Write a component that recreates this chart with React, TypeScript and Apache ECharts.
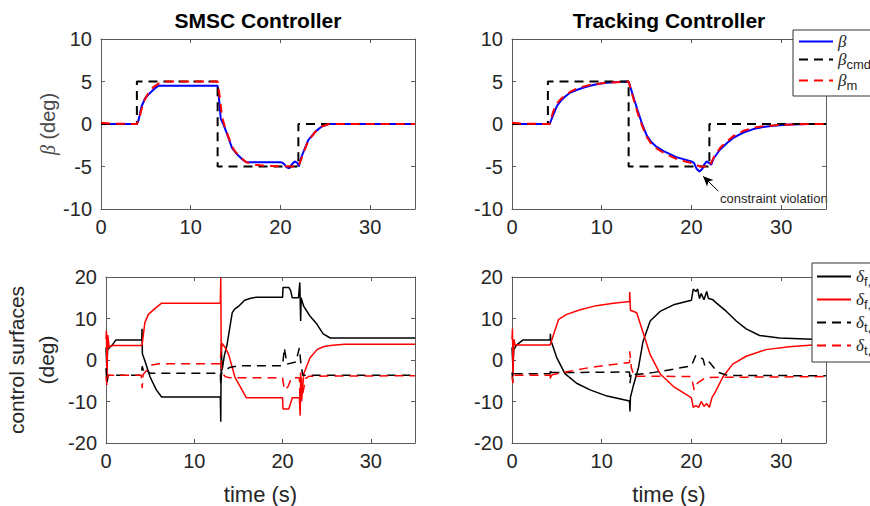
import React, { useEffect, useRef } from "react";
import * as echarts from "echarts";

// ---------- data (time s, value) ----------
const betaCmd: number[][] = [[0, 0], [4, 0], [4, 5], [13, 5], [13, -5], [22, -5], [22, 0], [35, 0]];

const smscBeta: number[][] = [[0, 0], [4.0, 0], [4.2, 0.5], [4.5, 2.0], [4.9, 3.0], [5.4, 3.6], [5.9, 4.1], [6.4, 4.5], [13.0, 4.5], [13.15, 3.0], [13.35, 0.6], [13.7, -0.2], [14.2, -1.6], [14.6, -2.8], [15.1, -3.5], [15.8, -4.2], [16.2, -4.5], [20.1, -4.5], [20.4, -4.7], [20.7, -5.1], [21.0, -5.2], [21.3, -4.7], [21.6, -4.4], [21.9, -4.6], [22.05, -5.0], [22.3, -4.0], [22.6, -3.2], [23.1, -1.9], [23.9, -0.9], [24.6, -0.3], [25.4, 0], [35, 0]];
const smscBetaM: number[][] = [[0, 0.15], [1, 0.05], [4.0, 0], [4.3, 0.8], [4.7, 2.5], [5.2, 3.5], [5.8, 4.3], [6.5, 4.8], [7.2, 5.0], [13.0, 5.0], [13.2, 3.5], [13.5, 0.8], [13.8, -0.3], [14.3, -1.8], [14.8, -3.0], [15.4, -3.8], [16.2, -4.5], [17.2, -4.8], [18.5, -4.95], [22.0, -5.0], [22.3, -4.2], [22.6, -3.3], [23.1, -2.0], [23.9, -0.9], [24.6, -0.3], [25.4, 0], [35, 0]];

const trkBeta: number[][] = [[0, 0], [4.2, 0], [4.5, 0.8], [5.0, 2.1], [5.5, 2.8], [5.9, 3.2], [6.5, 3.7], [7.2, 4.0], [8.0, 4.3], [8.7, 4.5], [9.6, 4.7], [10.5, 4.85], [11.8, 4.95], [13.0, 5.0], [13.5, 3.3], [14.0, 1.6], [14.5, 0], [15.0, -1.3], [15.5, -2.1], [16.0, -2.6], [16.9, -3.2], [18.3, -3.9], [20.0, -4.4], [20.3, -4.6], [20.6, -5.3], [20.9, -5.6], [21.2, -5.3], [21.4, -4.8], [21.7, -4.4], [22.0, -4.6], [22.2, -4.8], [22.5, -4.0], [23.2, -3.0], [24.0, -2.2], [24.7, -1.6], [25.8, -1.0], [26.9, -0.6], [28.0, -0.35], [29.1, -0.2], [31, -0.05], [33, 0], [35, 0]];
const trkBetaM: number[][] = [[0, 0.15], [1, 0.05], [4.2, 0], [4.6, 1.5], [5.0, 2.4], [5.5, 3.0], [6.5, 3.8], [7.5, 4.3], [8.7, 4.6], [10.5, 4.85], [13.0, 5.0], [13.5, 3.1], [14.0, 1.3], [14.5, -0.2], [15.0, -1.5], [15.5, -2.3], [16.0, -2.8], [16.9, -3.4], [18.3, -4.1], [20.0, -4.6], [21.0, -5.0], [22.0, -5.0], [22.5, -3.9], [23.2, -2.8], [24.0, -2.0], [24.7, -1.4], [25.8, -0.8], [26.9, -0.45], [28.0, -0.25], [30, -0.1], [33, 0], [35, 0]];

const smscDfr: number[][] = [[0, 3], [0.08, -1.5], [0.18, 2.5], [0.4, 3.0], [0.7, 3.6], [1.1, 4.8], [4.05, 4.8], [4.08, 7.5], [4.12, 1.5], [4.4, -0.2], [5.0, -4.1], [5.7, -7.2], [6.3, -8.9], [12.95, -8.9], [13.0, -14.9], [13.05, 4], [13.15, -2.5], [13.4, 1.0], [13.7, 3.6], [14.3, 11.4], [14.6, 12.3], [15.0, 12.9], [15.7, 14.4], [16.3, 14.8], [17, 15.1], [20.0, 15.1], [20.05, 17.5], [20.7, 17.5], [20.9, 16.8], [21.1, 15.0], [21.8, 15.0], [21.95, 18.7], [22.05, 9.4], [22.1, 15], [22.4, 12.9], [23.1, 10.6], [23.9, 8.6], [24.6, 6.3], [25.4, 5.3], [26.5, 5.3], [35, 5.3]];
const smscDfl: number[][] = [[0, 5], [0.05, 7.1], [0.12, -5], [0.2, 6], [0.35, 3.2], [0.8, 3.5], [4.05, 3.5], [4.1, 3.8], [4.4, 9.0], [4.8, 11.0], [5.6, 12.5], [6.3, 13.7], [12.95, 13.7], [13.0, 19.8], [13.05, 2.0], [13.15, 4.0], [13.5, 3], [13.9, 1.3], [14.6, -4.1], [15.4, -7.2], [15.9, -9.1], [20.0, -9.1], [20.05, -11.8], [20.7, -11.8], [20.9, -10.5], [21.1, -9.1], [21.9, -9.1], [22.0, -13.4], [22.05, -3], [22.15, -10], [22.4, -3.3], [23.1, 0.5], [23.9, 2.5], [24.6, 3.2], [25.4, 3.5], [27, 3.8], [35, 3.8]];
const smscDtr: number[][] = [[0, -2], [0.1, -5.5], [0.25, -3.7], [4.0, -3.7], [4.1, -1.5], [4.3, -3.0], [4.6, -2.5], [5.0, -3.2], [12.95, -3.2], [13.0, -6], [13.1, -3], [13.5, -2.5], [14, -1.8], [15, -1.4], [20.0, -1.4], [20.2, 2.9], [20.5, -1.0], [21.5, -0.5], [21.9, 2.9], [22.1, -1.4], [22.3, -3.7], [35, -3.7]];
const smscDtl: number[][] = [[0, -4], [0.1, -6], [0.25, -3.7], [4.0, -3.7], [4.1, -6.8], [4.2, -3.5], [4.6, -2.5], [5.2, -1.2], [6, -0.9], [12.95, -0.9], [13.0, 2], [13.1, -3], [13.5, -4.0], [14, -4.3], [20.0, -4.3], [20.2, -7.2], [20.6, -6.5], [21.0, -4.3], [21.9, -4.3], [22.0, -12], [22.1, -3.5], [22.3, -8], [22.6, -4.5], [23, -3.9], [35, -3.8]];

const trkDfr: number[][] = [[0, 3], [0.1, -1.5], [0.2, 2.5], [0.5, 3.6], [1.2, 4.8], [4.25, 4.8], [4.28, 6.3], [4.32, 4.8], [5.0, 0.5], [5.9, -3.3], [7.2, -5.6], [8.7, -7.2], [10.6, -8.7], [13.1, -9.9], [13.15, -12.4], [13.2, -9], [13.5, -6.4], [14.1, -1.8], [14.6, 4.4], [15.4, 9.4], [16.5, 11.7], [18.0, 13.3], [20.0, 14.4], [20.2, 17.1], [20.5, 16.5], [20.7, 17.1], [20.9, 14.8], [21.1, 16.0], [21.4, 14.5], [21.7, 16.5], [21.9, 14.8], [22.4, 14.5], [22.8, 13.7], [23.9, 11.7], [25.0, 9.4], [26.1, 7.5], [27.6, 5.9], [29.8, 5.3], [33.5, 5.0], [35, 5.0]];
const trkDfl: number[][] = [[0, 5], [0.05, 7.5], [0.12, -4], [0.2, 5], [0.35, 3.6], [4.25, 3.6], [4.6, 5.9], [5.2, 9.8], [6.1, 11.0], [7.6, 12.1], [9.4, 13.1], [11.3, 13.7], [13.1, 14.1], [13.12, 16.4], [13.2, 12], [13.9, 11.4], [14.6, 6.7], [15.4, 1.3], [16.5, -3.3], [18.0, -6.4], [19.4, -8.3], [20.0, -9.1], [20.2, -11.4], [20.5, -11.0], [20.8, -11.4], [21.1, -10.0], [21.4, -11.2], [21.7, -10.5], [22.0, -11.4], [22.3, -9], [22.6, -8.0], [23.5, -4.1], [24.6, -1.0], [26.1, 0.9], [28.3, 2.5], [30.9, 3.2], [34.6, 3.8], [35, 3.8]];
const trkDtr: number[][] = [[0, -3], [0.1, -5], [0.25, -3.3], [4.25, -3.3], [4.3, -2], [4.4, -3.0], [7.4, -3.0], [13.1, -2.9], [13.15, -5.6], [13.3, -3], [13.8, -3.5], [15.5, -3.1], [18.0, -2.2], [20.0, -1.4], [20.5, 1.2], [21.3, 0.2], [21.5, -1.5], [22.0, -0.5], [22.9, -2.9], [24, -3.7], [35, -3.8]];
const trkDtl: number[][] = [[0, -4], [0.1, -5.6], [0.25, -3.7], [4.25, -3.7], [4.3, -5], [4.4, -3.6], [5.0, -3.3], [8.7, -1.8], [13.1, -0.6], [13.12, 2.1], [13.3, -1.8], [13.6, -3.9], [15, -3.9], [20.0, -4.0], [20.3, -7.2], [20.7, -5.5], [21.2, -4.8], [21.6, -4.2], [35, -4.0]];

const arrowTail = [23.0, -7.9];
const arrowHead = [21.3, -6.15];

const panelTitles = ["SMSC Controller", "Tracking Controller"];
const topLegendNames = ["beta", "beta_cmd", "beta_m"];
const bottomLegendNames = ["dfr", "dfl", "dtr", "dtl"];
const legendLabels: Record<string, string> = {
  beta: "{g|β}",
  beta_cmd: "{g|β}{s|cmd}",
  beta_m: "{g|β}{s|m}",
  dfr: "{g|δ}{s|f,r}",
  dfl: "{g|δ}{s|f,l}",
  dtr: "{g|δ}{s|t,r}",
  dtl: "{g|δ}{s|t,l}",
};

const FONT = "Liberation Sans, Arial, Helvetica, sans-serif";
const AX = "#5a5a5a";
const TXT = "#262626";

export default function App() {
  const ref = useRef<HTMLDivElement>(null);
  useEffect(() => {
    if (!ref.current) return;
    const chart = echarts.init(ref.current, undefined, { renderer: "svg" });

    const grids = [
      { left: 101, top: 39, width: 314, height: 170 },
      { left: 512, top: 39, width: 314, height: 170 },
      { left: 101, top: 277, width: 314, height: 170 },
      { left: 512, top: 277, width: 314, height: 170 },
    ];

    const xAxes: any[] = [];
    const yAxes: any[] = [];
    for (let pass = 0; pass < 2; pass++) {
      for (let g = 0; g < 4; g++) {
        const main = pass === 0;
        xAxes.push({
          type: "value",
          gridIndex: g,
          position: main ? "bottom" : "top",
          min: 0,
          max: 35,
          interval: 10,
          axisLine: { show: true, onZero: false, lineStyle: { color: AX, width: 1 } },
          axisTick: { show: true, inside: true, length: 4, lineStyle: { color: AX } },
          axisLabel: main
            ? { show: true, showMaxLabel: false, fontSize: 20, color: TXT, fontFamily: FONT, margin: 8 }
            : { show: false },
          splitLine: { show: false },
          name: main && g >= 2 ? "time (s)" : "",
          nameLocation: "middle",
          nameGap: 40,
          nameTextStyle: { fontSize: 22, color: TXT, fontFamily: FONT },
        });
        const top = g < 2;
        yAxes.push({
          type: "value",
          gridIndex: g,
          position: main ? "left" : "right",
          min: top ? -10 : -20,
          max: top ? 10 : 20,
          interval: top ? 5 : 10,
          axisLine: { show: true, onZero: false, lineStyle: { color: AX, width: 1 } },
          axisTick: { show: true, inside: true, length: 4, lineStyle: { color: AX } },
          axisLabel: main
            ? { show: true, fontSize: 20, color: TXT, fontFamily: FONT, margin: 9 }
            : { show: false },
          splitLine: { show: false },
          name: main && g === 0 ? "{i|β} (deg)" : main && g === 2 ? "control surfaces\n(deg)" : "",
          nameLocation: "middle",
          nameGap: g === 0 ? 43 : 45,
          nameTextStyle:
            g === 0
              ? {
                  fontSize: 20,
                  color: "#4a4a4a",
                  fontFamily: FONT,
                  rich: { i: { fontSize: 20, fontStyle: "italic", fontFamily: "Liberation Serif, serif", color: "#4a4a4a" } },
                }
              : { fontSize: 21, color: TXT, fontFamily: FONT, lineHeight: 30 },
        });
      }
    }

    const thick = 2;
    const thin = 1.5;
    const dash = [9, 6];
    const mk = (name: string, data: number[][], g: number, color: string, dashed: boolean, w: number, extra: any = {}) => ({
      type: "line",
      name,
      data,
      xAxisIndex: g,
      yAxisIndex: g,
      showSymbol: false,
      symbol: "none",
      lineStyle: { color, width: w, type: dashed ? dash : "solid" },
      itemStyle: { color },
      ...extra,
    });

    const series = [
      mk("beta", smscBeta, 0, "#0000ff", false, thick),
      mk("beta_cmd", betaCmd, 0, "#000000", true, thick),
      mk("beta_m", smscBetaM, 0, "#ff0000", true, thick),
      mk("beta", trkBeta, 1, "#0000ff", false, thick),
      mk("beta_cmd", betaCmd, 1, "#000000", true, thick),
      mk("beta_m", trkBetaM, 1, "#ff0000", true, thick, {
        markLine: {
          silent: true,
          symbol: ["none", "arrow"],
          symbolSize: [7, 10],
          label: { show: false },
          lineStyle: { color: "#000", width: 1, type: "solid" },
          data: [[{ coord: arrowTail }, { coord: arrowHead }]],
        },
      }),
      mk("dfr", smscDfr, 2, "#000000", false, thin),
      mk("dfl", smscDfl, 2, "#ff0000", false, thin),
      mk("dtr", smscDtr, 2, "#000000", true, thin),
      mk("dtl", smscDtl, 2, "#ff0000", true, thin),
      mk("dfr", trkDfr, 3, "#000000", false, thin),
      mk("dfl", trkDfl, 3, "#ff0000", false, thin),
      mk("dtr", trkDtr, 3, "#000000", true, thin),
      mk("dtl", trkDtl, 3, "#ff0000", true, thin),
    ];

    const legendRich = {
      g: { fontSize: 17, fontStyle: "italic", fontFamily: "Liberation Serif, serif", color: TXT },
      s: { fontSize: 13, fontFamily: FONT, color: TXT, padding: [10, 0, 0, 0] },
    };
    const legendCommon = {
      orient: "vertical",
      backgroundColor: "#ffffff",
      borderColor: "#333",
      borderWidth: 1,
      borderRadius: 0,
      itemWidth: 34,
      itemHeight: 14,
      selectedMode: false,
      itemStyle: { opacity: 0 },
      formatter: (n: string) => legendLabels[n] || n,
      textStyle: { fontFamily: FONT, color: TXT, rich: legendRich },
    };

    chart.setOption({
      animation: false,
      backgroundColor: "#ffffff",
      grid: grids,
      xAxis: xAxes,
      yAxis: yAxes,
      series,
      legend: [
        { ...legendCommon, data: topLegendNames, left: 793, top: 30, padding: [3, 8, 4, 5], itemGap: 1 },
        { ...legendCommon, data: bottomLegendNames, left: 812, top: 263, padding: [5, 8, 5, 4], itemGap: 3 },
      ],
      graphic: [
        { type: "text", x: 258, y: 20, style: { text: panelTitles[0], fontSize: 21, fontWeight: "bold", fontFamily: FONT, fill: "#000", textAlign: "center", textVerticalAlign: "middle" } },
        { type: "text", x: 669, y: 20, style: { text: panelTitles[1], fontSize: 21, fontWeight: "bold", fontFamily: FONT, fill: "#000", textAlign: "center", textVerticalAlign: "middle" } },
        { type: "text", x: 720, y: 198, style: { text: "constraint violation", fontSize: 13, fontFamily: FONT, fill: TXT, textAlign: "left", textVerticalAlign: "middle" } },
      ],
    });
    return () => chart.dispose();
  }, []);
  return <div ref={ref} style={{ position: "absolute", left: 0, top: 0, width: 870, height: 506 }} />;
}
